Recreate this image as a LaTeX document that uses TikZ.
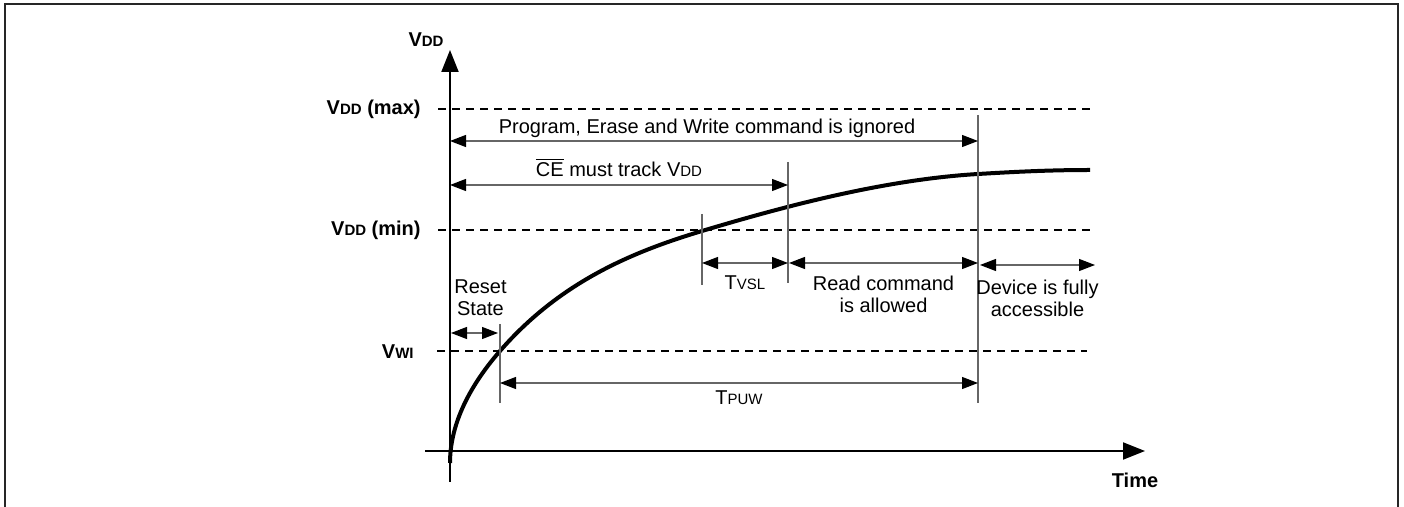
\documentclass[tikz,border=0pt]{standalone}
\usepackage{fontspec}
\setmainfont{Liberation Sans}
\usepackage{tikz}
\usetikzlibrary{arrows.meta,positioning}
\newcommand{\subcap}[2]{#1{\fontsize{7.5}{8}\selectfont #2}}
\begin{document}
\begin{tikzpicture}[x=0.5pt,y=-0.5pt,font=\fontsize{10}{11}\selectfont,every node/.style={align=center},
    axis/.style={line width=1pt,-{Triangle[length=11pt,width=8.5pt]}},
    level/.style={line width=1pt,dash pattern=on 4pt off 3pt},
    guide/.style={draw=black!60,line width=0.6pt},
    dim/.style={draw=black!60,line width=0.6pt,{Triangle[length=8pt,width=6pt,color=black]}-{Triangle[length=8pt,width=6pt,color=black]}},
    lvl/.style={font=\bfseries,anchor=east,inner sep=0pt}]
    \useasboundingbox (0,0) rectangle (1404,507);
    \draw[line width=1.2pt,black!85] (5,507)--(5,4)--(1398,4)--(1398,507);
    % axes
    \coordinate (ybot) at (450,482); \coordinate (ytop) at (450,50);
    \coordinate (xleft) at (425,451); \coordinate (xright) at (1145,451);
    \draw[axis] (ybot)--(ytop); \draw[axis] (xleft)--(xright);
    \node[font=\bfseries] (vddlbl) at (426,40) {\subcap{V}{DD}};
    \node[font=\bfseries] (timelbl) at (1135,480) {Time};
    % voltage levels
    \node[lvl] (maxlbl) at (421,109) {\subcap{V}{DD} (max)};
    \node[lvl] (minlbl) at (421,230) {\subcap{V}{DD} (min)};
    \node[lvl] (wilbl) at (414,352) {\subcap{V}{WI}};
    \coordinate (max-a) at (438,109); \coordinate (max-b) at (1090,109);
    \coordinate (min-a) at (438,230); \coordinate (min-b) at (1090,230);
    \coordinate (wi-a) at (437,351); \coordinate (wi-b) at (1087,351);
    \draw[level] (max-a)--(max-b); \draw[level] (min-a)--(min-b); \draw[level] (wi-a)--(wi-b);
    % supply ramp
    \draw[line width=2pt] (450,463) .. controls (450,415) and (480,374) .. (500,351)
      .. controls (560,282) and (632,252) .. (702,231)
      .. controls (792,204) and (888,179.4) .. (978,174)
      .. controls (1015,171.8) and (1050,170) .. (1090,170);
    % guide lines
    \coordinate (g1-t) at (500,324); \coordinate (g1-b) at (500,403);
    \coordinate (g2-t) at (702,214); \coordinate (g2-b) at (702,285);
    \coordinate (g3-t) at (788,162); \coordinate (g3-b) at (788,283);
    \coordinate (g4-t) at (978,115); \coordinate (g4-b) at (978,403);
    \foreach \g in {g1,g2,g3,g4} \draw[guide] (\g-t)--(\g-b);
    % intervals
    \foreach \n/\xa/\xb/\y in {ign/450/978/141,ce/450/788/185,vsl/702/788/263,rd/789/978/263,dev/980/1095/265,rst/451/498/333,puw/500/978/383}
      {\coordinate (\n-a) at (\xa,\y); \coordinate (\n-b) at (\xb,\y);}
    \draw[dim] (ign-a)--(ign-b) node[midway,above=1.3pt,inner sep=0pt,xshift=-3.5pt] (ignlbl) {Program, Erase and Write command is ignored};
    \draw[dim] (ce-a)--(ce-b) node[midway,above=3.9pt,inner sep=0pt] (celbl) {\(\overline{\mbox{CE}}\) must track \subcap{V}{DD}};
    \draw[dim] (vsl-a)--(vsl-b) node[midway,below=6pt,inner sep=0pt] (vsllbl) {\subcap{T}{VSL}};
    \draw[dim] (rd-a)--(rd-b) node[midway,below=6pt,inner sep=0pt] (rdlbl) {Read command\\is allowed};
    \draw[dim] (dev-a)--(dev-b) node[midway,below=7pt,inner sep=0pt] (devlbl) {Device is fully\\accessible};
    \draw[dim] (rst-a)--(rst-b) node[midway,above=8.5pt,inner sep=0pt,xshift=3pt] (rstlbl) {Reset\\State};
    \draw[dim] (puw-a)--(puw-b) node[midway,below=3.4pt,inner sep=0pt] (puwlbl) {\subcap{T}{PUW}};
\end{tikzpicture}
\end{document}
